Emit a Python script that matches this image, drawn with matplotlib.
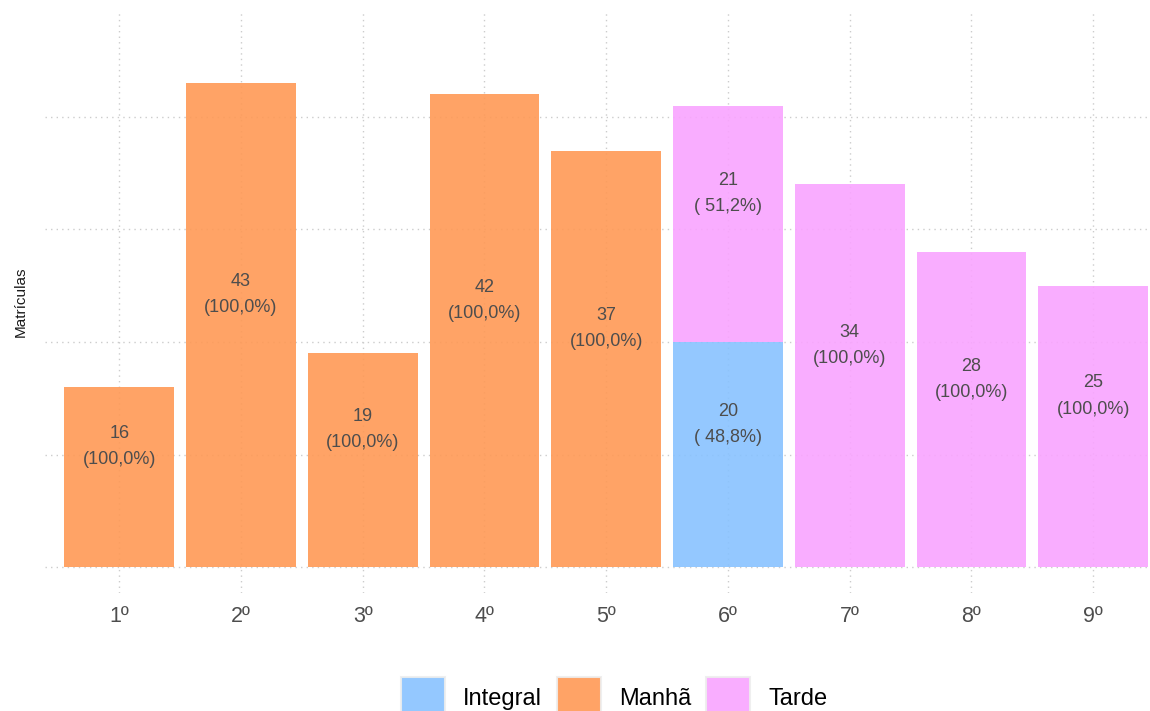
import matplotlib.pyplot as plt
import numpy as np
from matplotlib.patches import Patch

plt.rcParams['font.family'] = ['Liberation Sans', 'DejaVu Sans']

# dados
series = ['Integral', 'Manhã', 'Tarde']
anos = ['1º', '2º', '3º', '4º', '5º', '6º', '7º', '8º', '9º']
integral = [0, 0, 0, 0, 0, 20, 0, 0, 0]
manha = [16, 43, 19, 42, 37, 0, 0, 0, 0]
tarde = [0, 0, 0, 0, 0, 21, 34, 28, 25]

cores = {'Integral': '#88C2FF', 'Manhã': '#FF9955', 'Tarde': '#F9A4FF'}
valores = {'Integral': integral, 'Manhã': manha, 'Tarde': tarde}

fig = plt.figure(figsize=(11.5, 7.11), dpi=100)
ax = fig.add_axes([45 / 1150, 1 - 593 / 711, 1103 / 1150, 583 / 711])

x = np.arange(1, len(anos) + 1)
total = np.array(integral) + np.array(manha) + np.array(tarde)
base = np.zeros(len(anos))
for s in series:
    v = np.array(valores[s], dtype=float)
    ax.bar(x, v, bottom=base, width=0.9, color=cores[s], alpha=0.9,
           edgecolor='none', zorder=2)
    for i in range(len(anos)):
        if v[i] > 0:
            pct = f"{100 * v[i] / total[i]:5.1f}".replace('.', ',')
            ax.text(x[i], base[i] + v[i] / 2 + 2.7, f"{int(v[i])}\n({pct}%)",
                    ha='center', va='center', fontsize=13, color='#4d4d4d',
                    linespacing=1.7, zorder=3)
    base += v

ax.set_xlim(0.39, 9.45)
ax.set_ylim(-2.3, 49.5)
ax.set_xticks(x)
ax.set_xticklabels(anos, fontsize=15.5, color='#4d4d4d')
ax.set_yticks([0, 10, 20, 30, 40])
ax.set_yticklabels([])
ax.tick_params(length=0)
ax.tick_params(axis='x', pad=9)
ax.grid(True, color='#cccccc', linestyle=(0, (1, 3)), linewidth=1, zorder=0)
ax.set_axisbelow(True)
for sp in ax.spines.values():
    sp.set_visible(False)
ax.set_ylabel('Matrículas', fontsize=11, color='#1a1a1a')
ax.yaxis.set_label_coords(-17 / 1103, 0.5)

handles = [Patch(facecolor=cores[s], alpha=0.9, edgecolor='#eeeeee', linewidth=1.5)
           for s in series]
fig.legend(handles, series, loc='lower center', ncol=3, frameon=False,
           bbox_to_anchor=(0.534, -0.025), fontsize=17, handlelength=1.86,
           handleheight=2.2, handletextpad=0.76, columnspacing=0.64,
           borderpad=0)

fig.savefig('out.png', dpi=100)
